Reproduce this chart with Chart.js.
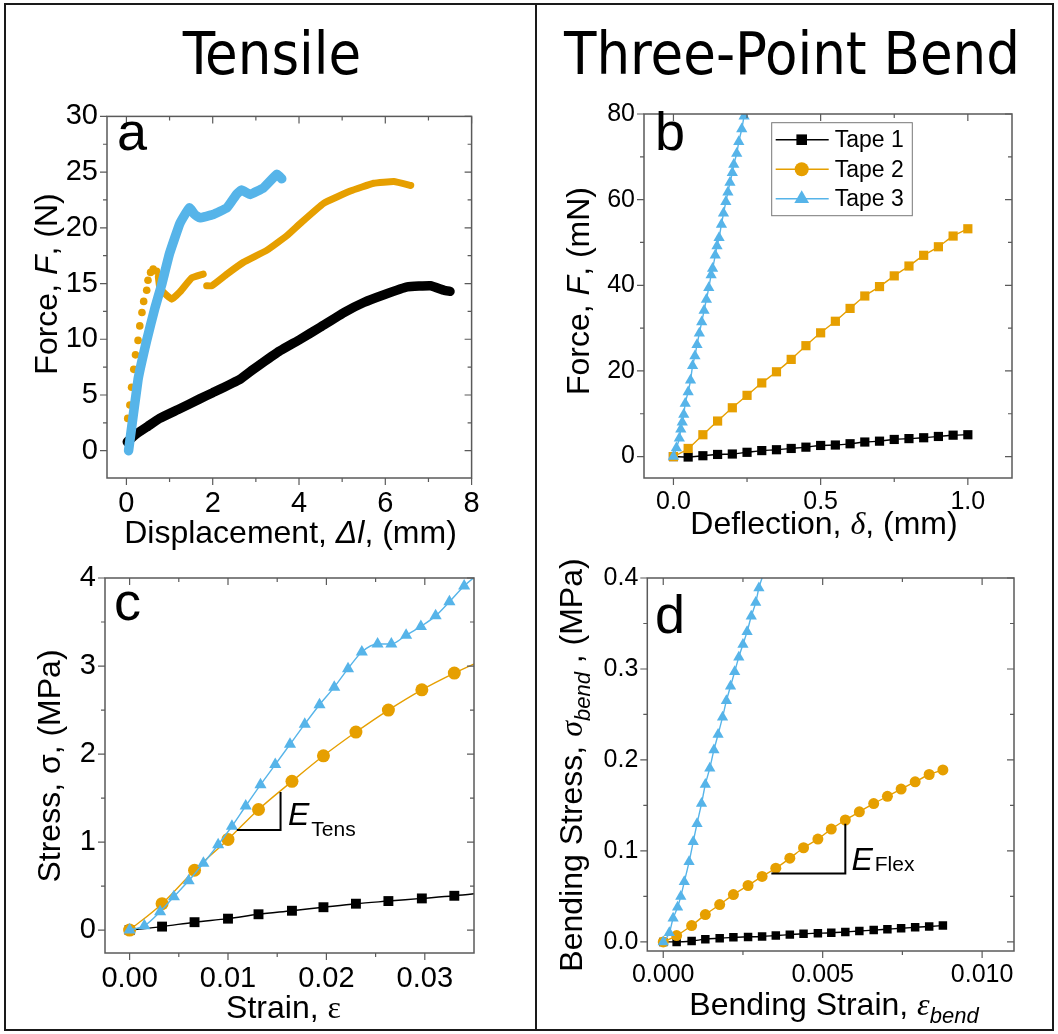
<!DOCTYPE html>
<html>
<head>
<meta charset="utf-8">
<script src="https://cdn.jsdelivr.net/npm/chart.js@4.4.1/dist/chart.umd.min.js"></script>
<style>
    body { margin: 0; background: #fff; width: 1058px; height: 1034px; position: relative; overflow: hidden; }
    .rule { position: absolute; background: #1a1a1a; }
    .head { position: absolute; top: 19px; font-family: "DejaVu Sans Condensed", "DejaVu Sans", sans-serif; font-stretch: condensed; font-size: 59px; color: #000; text-align: center; white-space: nowrap; }
    canvas { position: absolute; }
</style>
</head>
<body>
<div class="rule" style="left:4px;top:3px;width:1050px;height:2px"></div>
<div class="rule" style="left:4px;top:1029px;width:1050px;height:2px"></div>
<div class="rule" style="left:4px;top:3px;width:2px;height:1028px"></div>
<div class="rule" style="left:1052px;top:3px;width:2px;height:1028px"></div>
<div class="rule" style="left:535px;top:3px;width:2px;height:1028px"></div>
<div class="head" style="left:122px;width:300px">Tensile</div>
<div class="head" style="left:542px;width:500px">Three-Point Bend</div>
<canvas id="pa" width="530" height="460" style="left:0;top:90px"></canvas>
<canvas id="pb" width="515" height="460" style="left:537px;top:90px"></canvas>
<canvas id="pc" width="530" height="498" style="left:0;top:530px"></canvas>
<canvas id="pd" width="515" height="498" style="left:537px;top:530px"></canvas>
<script>
/* Tensile / three-point bend figure — four panels */

const BLACK = '#000000', ORANGE = '#E69F00', BLUE = '#56B4E9';
const SANS = '"Liberation Sans", Arial, sans-serif';
const SERIF = '"Liberation Serif", "DejaVu Serif", serif';

// (a) force vs displacement, tensile
const aBlackX = [0.02, 0.23, 0.5, 0.77, 1.2, 1.7, 2.0, 2.63, 2.94, 3.49, 4.03, 4.5, 5.04, 5.5, 5.97, 6.51, 7.05, 7.36, 7.5];
const aBlackY = [0.8, 1.5, 2.2, 2.9, 3.7, 4.65, 5.2, 6.4, 7.3, 8.8, 10.0, 11.1, 12.4, 13.3, 14.0, 14.7, 14.8, 14.4, 14.3];
const aBlueX = [0.05, 0.27, 0.47, 0.66, 0.81, 1.0, 1.24, 1.46, 1.58, 1.7, 2.01, 2.33, 2.55, 2.67, 2.87, 3.18, 3.49, 3.6];
const aBlueY = [0, 6.4, 9.9, 12.8, 14.8, 17.7, 20.4, 21.8, 21.2, 20.9, 21.2, 21.8, 23.0, 23.4, 23.0, 23.6, 24.8, 24.4];
const aOrangeDotX = [0.03, 0.08, 0.12, 0.17, 0.21, 0.27, 0.31, 0.36, 0.40, 0.47, 0.50, 0.56, 0.62, 0.70];
const aOrangeDotY = [2.9, 4.1, 5.7, 7.3, 8.6, 9.9, 11.2, 12.4, 13.4, 14.4, 15.3, 16.0, 16.3, 16.1];
const aOrangeX = [0.74, 0.77, 0.85, 1.05, 1.24, 1.51, 1.78, 1.82, 1.86, 1.98, 2.33, 2.71, 3.26, 3.72, 4.03, 4.57, 5.19, 5.73, 6.2, 6.59];
const aOrangeY = [15.6, 14.7, 14.25, 13.6, 14.25, 15.5, 15.85, null, 14.8, 14.8, 15.85, 16.9, 18.0, 19.3, 20.4, 22.2, 23.3, 24.0, 24.15, 23.8];
const aTicksX = [0, 2, 4, 6, 8], aMinorX = [1, 3, 5, 7];
const aTicksY = [0, 5, 10, 15, 20, 25, 30], aMinorY = [2.5, 7.5, 12.5, 17.5, 22.5, 27.5];

// (b) force vs deflection, three-point bend
const bX = [0, 0.05, 0.1, 0.15, 0.2, 0.25, 0.3, 0.35, 0.4, 0.45, 0.5, 0.55, 0.6, 0.65, 0.7, 0.75, 0.8, 0.85, 0.9, 0.95, 1.0];
const bBlack = [0, -0.1, 0.2, 0.5, 0.6, 1.0, 1.4, 1.6, 1.9, 2.2, 2.6, 2.7, 3.0, 3.4, 3.6, 4.0, 4.2, 4.4, 4.7, 5.0, 5.1];
const bOrange = [0, 1.9, 5.1, 8.3, 11.4, 14.3, 17.2, 19.8, 22.7, 25.9, 28.9, 31.6, 34.6, 37.5, 39.7, 42.2, 44.5, 47.0, 49.0, 51.5, 53.2];
const bBlueX = [0, 0.01, 0.02, 0.025, 0.03, 0.035, 0.04, 0.05, 0.058, 0.065, 0.073, 0.08, 0.088, 0.096, 0.104, 0.112, 0.12, 0.128, 0.133, 0.142, 0.148, 0.155, 0.163, 0.17, 0.178, 0.185, 0.192, 0.2, 0.205, 0.215, 0.222, 0.232, 0.24, 0.25];
const bBlueY = [0, 2.0, 4.3, 6.4, 8.0, 9.8, 12.4, 15.1, 17.8, 21.2, 23.5, 26.1, 28.8, 31.4, 34.1, 36.7, 39.4, 42.4, 43.9, 47.0, 49.2, 51.1, 54.2, 56.8, 59.5, 61.7, 64.0, 66.3, 68.2, 70.8, 73.5, 76.5, 79.5, 82.5];
const bTicksX = [0, 0.5, 1.0], bMinorX = [0.25, 0.75];
const bTicksY = [0, 20, 40, 60, 80], bMinorY = [10, 30, 50, 70];
const bLegend = ['Tape 1', 'Tape 2', 'Tape 3'];

// (c) tensile stress vs strain
const cX = [0, 0.0033, 0.0066, 0.0100, 0.0131, 0.0165, 0.0197, 0.0230, 0.0263, 0.0297, 0.0330, 0.0365];
const cBlack = [0, 0.04, 0.09, 0.13, 0.18, 0.22, 0.26, 0.30, 0.33, 0.36, 0.39, 0.43];
const cOrange = [0, 0.30, 0.68, 1.03, 1.37, 1.69, 1.98, 2.25, 2.50, 2.73, 2.92, 3.10];
const cBlueX = [0, 0.0015, 0.0031, 0.0045, 0.006, 0.0075, 0.009, 0.0104, 0.0118, 0.0133, 0.0148, 0.0163, 0.0178, 0.0193, 0.0208, 0.0222, 0.0236, 0.0252, 0.0266, 0.0281, 0.0296, 0.0311, 0.0325, 0.034, 0.0356];
const cBlueY = [0, 0.05, 0.21, 0.38, 0.56, 0.76, 0.97, 1.18, 1.41, 1.65, 1.88, 2.11, 2.34, 2.56, 2.76, 2.97, 3.16, 3.25, 3.25, 3.35, 3.45, 3.57, 3.73, 3.91, 4.06];
const cTicksX = [0, 0.01, 0.02, 0.03], cMinorX = [0.005, 0.015, 0.025];
const cTicksY = [0, 1, 2, 3, 4], cMinorY = [0.5, 1.5, 2.5, 3.5];
const cSlope = { x: [0.0109, 0.01534, 0.01534], y: [1.136, 1.136, 1.57], textX: 0.0161, textY: 1.19 };

// (d) bending stress vs bending strain
const dX = [0, 0.00042, 0.00089, 0.00132, 0.00177, 0.0022, 0.00266, 0.0031, 0.00353, 0.00397, 0.0044, 0.00485, 0.00527, 0.00571, 0.00615, 0.0066, 0.00703, 0.00746, 0.0079, 0.00834, 0.00877];
const dBlack = [0, 0, 0.001, 0.003, 0.004, 0.005, 0.0055, 0.006, 0.007, 0.008, 0.009, 0.0095, 0.010, 0.011, 0.012, 0.013, 0.014, 0.015, 0.016, 0.017, 0.018];
const dOrange = [0, 0.007, 0.018, 0.030, 0.041, 0.052, 0.062, 0.072, 0.081, 0.092, 0.1035, 0.113, 0.124, 0.134, 0.143, 0.152, 0.160, 0.168, 0.176, 0.184, 0.189];
const dBlueX = [0, 0.00019, 0.00031, 0.00045, 0.00055, 0.00066, 0.00081, 0.00094, 0.00106, 0.0012, 0.00132, 0.00146, 0.00159, 0.00172, 0.00186, 0.00198, 0.00211, 0.00224, 0.00237, 0.0025, 0.00263, 0.00276, 0.0029, 0.003, 0.0032];
const dBlueY = [0, 0.010, 0.026, 0.038, 0.050, 0.066, 0.088, 0.110, 0.130, 0.152, 0.173, 0.191, 0.211, 0.228, 0.247, 0.265, 0.281, 0.297, 0.313, 0.327, 0.341, 0.358, 0.373, 0.389, 0.41];
const dTicksX = [0, 0.005, 0.010], dMinorX = [0.0025, 0.0075];
const dTicksY = [0, 0.1, 0.2, 0.3, 0.4], dMinorY = [0.05, 0.15, 0.25, 0.35];
const dSlope = { x: [0.00339, 0.00571, 0.00571], y: [0.0753, 0.0753, 0.130], textX: 0.0059, textY: 0.079 };

const zip = (xs, ys) => xs.map((x, i) => ({ x, y: ys[i] }));

// text made of styled pieces, centred on (cx, cy); rotated for y titles
function drawRich(ctx, parts, cx, cy, rot) {
    ctx.save();
    ctx.translate(cx, cy);
    if (rot) ctx.rotate(-Math.PI / 2);
    let w = 0;
    parts.forEach(p => { ctx.font = p.font; w += ctx.measureText(p.t).width; });
    let x = -w / 2;
    const base = parts[0].size * 0.36;
    ctx.fillStyle = '#000';
    ctx.textAlign = 'left';
    ctx.textBaseline = 'alphabetic';
    parts.forEach(p => {
        ctx.font = p.font;
        ctx.fillText(p.t, x, base + (p.dy || 0));
        x += ctx.measureText(p.t).width;
    });
    ctx.restore();
}
const seg = (t, size, style, family, dy) => ({ t, size, dy, font: `${style || ''} ${size}px ${family || SANS}` });

const decor = {
    id: 'decor',
    afterDraw(chart, args, o) {
        const ctx = chart.ctx, a = chart.chartArea, xs = chart.scales.x, ys = chart.scales.y;
        ctx.save();
        ctx.strokeStyle = '#5a5a5a';
        ctx.lineWidth = 1.5;
        ctx.strokeRect(a.left, a.top, a.right - a.left, a.bottom - a.top);
        ctx.lineWidth = 1.2;
        ctx.beginPath();
        const tickX = (vals, len) => vals.forEach(v => {
            const px = xs.getPixelForValue(v);
            ctx.moveTo(px, a.bottom); ctx.lineTo(px, a.bottom + len);
            ctx.moveTo(px, a.top); ctx.lineTo(px, a.top + len);
        });
        const tickY = (vals, len) => vals.forEach(v => {
            const py = ys.getPixelForValue(v);
            ctx.moveTo(a.left, py); ctx.lineTo(a.left - len, py);
            ctx.moveTo(a.right, py); ctx.lineTo(a.right - len, py);
        });
        tickX(o.xTicks, 7); tickX(o.xMinor, 4);
        tickY(o.yTicks, 7); tickY(o.yMinor, 4);
        ctx.stroke();

        if (o.slope) {
            ctx.strokeStyle = '#000';
            ctx.lineWidth = 2;
            ctx.beginPath();
            o.slope.x.forEach((v, i) => {
                const px = xs.getPixelForValue(v), py = ys.getPixelForValue(o.slope.y[i]);
                i ? ctx.lineTo(px, py) : ctx.moveTo(px, py);
            });
            ctx.stroke();
            const tx = xs.getPixelForValue(o.slope.textX), ty = ys.getPixelForValue(o.slope.textY);
            ctx.fillStyle = '#000';
            ctx.textBaseline = 'alphabetic';
            ctx.font = `italic 32px ${SANS}`;
            ctx.fillText('E', tx, ty);
            const ew = ctx.measureText('E').width;
            ctx.font = `21px ${SANS}`;
            ctx.fillText(o.slope.sub, tx + ew + 2, ty + o.slope.subDy);
        }

        ctx.fillStyle = '#000';
        ctx.font = `54px ${SANS}`;
        ctx.textBaseline = 'alphabetic';
        ctx.fillText(o.letter.t, o.letter.x, o.letter.y);

        drawRich(ctx, o.xTitle, o.xTitlePos[0], o.xTitlePos[1], false);
        drawRich(ctx, o.yTitle, o.yTitlePos[0], o.yTitlePos[1], true);

        if (o.legend) {
            const L = o.legend;
            ctx.strokeStyle = '#777';
            ctx.lineWidth = 1;
            ctx.strokeRect(L.x, L.y, L.w, L.h);
            L.items.forEach((it, i) => {
                const cy = L.y + 17 + i * 29.5;
                ctx.strokeStyle = it.color;
                ctx.fillStyle = it.color;
                ctx.lineWidth = 1.5;
                ctx.beginPath();
                ctx.moveTo(L.x + 4, cy); ctx.lineTo(L.x + 57, cy);
                ctx.stroke();
                Chart.helpers.drawPoint(ctx, { pointStyle: it.style, radius: it.r, borderWidth: 0, rotation: 0 }, L.x + 30, cy);
                ctx.fillStyle = '#000';
                ctx.font = `23px ${SANS}`;
                ctx.textBaseline = 'middle';
                ctx.fillText(it.label, L.x + 63, cy + 1);
            });
        }
        ctx.restore();
    }
};

function makePanel(id, p) {
    const cv = document.getElementById(id);
    const W = cv.width, H = cv.height;
    const tickFont = { family: SANS, size: p.tickSize };
    return new Chart(cv, {
        type: 'scatter',
        data: { datasets: p.datasets },
        options: {
            responsive: false,
            animation: false,
            events: [],
            layout: { padding: { top: p.box.t, right: W - p.box.r, left: 0, bottom: 0 } },
            plugins: { legend: { display: false }, tooltip: { enabled: false }, decor: p.decor },
            scales: {
                x: {
                    type: 'linear', min: p.xMin, max: p.xMax,
                    grid: { display: false, drawTicks: false }, border: { display: false },
                    afterFit: s => { s.height = H - p.box.b; },
                    afterBuildTicks: s => { s.ticks = p.decor.xTicks.map(v => ({ value: v })); },
                    ticks: { font: tickFont, color: '#000', padding: 9, maxRotation: 0, autoSkip: false, callback: p.xFmt },
                },
                y: {
                    type: 'linear', min: p.yMin, max: p.yMax,
                    grid: { display: false, drawTicks: false }, border: { display: false },
                    afterFit: s => { s.width = p.box.l; },
                    afterBuildTicks: s => { s.ticks = p.decor.yTicks.map(v => ({ value: v })); },
                    ticks: { font: tickFont, color: '#000', padding: 9, autoSkip: false, callback: p.yFmt },
                },
            },
        },
        plugins: [decor],
    });
}

const thick = (data, color, w, order) => ({
    data, showLine: true, borderColor: color, backgroundColor: color, borderWidth: w,
    pointRadius: 0, tension: 0.1, spanGaps: false, borderJoinStyle: 'round', borderCapStyle: 'round', order,
});
const marked = (data, color, style, r, order) => ({
    data, showLine: true, borderColor: color, backgroundColor: color, borderWidth: 1.4,
    pointStyle: style, pointRadius: r, pointBorderWidth: 0, cubicInterpolationMode: 'monotone', order,
});

const TT = 32;

makePanel('pa', {
    box: { l: 107, t: 15, r: 471.6, b: 388 },
    xMin: -0.45, xMax: 8, yMin: -2.45, yMax: 30, tickSize: 29,
    xFmt: v => String(v), yFmt: v => String(v),
    datasets: [
        thick(zip(aBlueX, aBlueY), BLUE, 9.5, 0),
        thick(zip(aOrangeX, aOrangeY), ORANGE, 7, 1),
        { data: zip(aOrangeDotX, aOrangeDotY), showLine: false, pointRadius: 3.8, pointBorderWidth: 0, backgroundColor: ORANGE, order: 2 },
        thick(zip(aBlackX, aBlackY), BLACK, 9.5, 3),
    ],
    decor: {
        xTicks: aTicksX, xMinor: aMinorX, yTicks: aTicksY, yMinor: aMinorY,
        letter: { t: 'a', x: 117, y: 60 },
        xTitle: [seg('Displacement, ', TT), seg('Δl', TT, 'italic'), seg(', (mm)', TT)], xTitlePos: [290.5, 441],
        yTitle: [seg('Force, ', TT), seg('F', TT, 'italic'), seg(', (N)', TT)], yTitlePos: [45, 194],
    },
});

makePanel('pb', {
    box: { l: 107, t: 14, r: 475, b: 388 },
    xMin: -0.1, xMax: 1.15, yMin: -5, yMax: 80, tickSize: 25,
    xFmt: v => v.toFixed(1), yFmt: v => String(v),
    datasets: [
        marked(zip(bBlueX, bBlueY), BLUE, 'triangle', 6.5, 0),
        marked(zip(bX, bOrange), ORANGE, 'rect', 6.5, 1),
        marked(zip(bX, bBlack), BLACK, 'rect', 6.5, 2),
    ],
    decor: {
        xTicks: bTicksX, xMinor: bMinorX, yTicks: bTicksY, yMinor: bMinorY,
        letter: { t: 'b', x: 118, y: 60 },
        xTitle: [seg('Deflection, ', TT), seg('δ', TT, 'italic', SERIF), seg(', (mm)', TT)], xTitlePos: [287, 432],
        yTitle: [seg('Force, ', TT), seg('F', TT, 'italic'), seg(', (mN)', TT)], yTitlePos: [40, 201],
        legend: {
            x: 234.7, y: 32.7, w: 140.6, h: 93,
            items: [
                { label: bLegend[0], color: BLACK, style: 'rect', r: 7.5 },
                { label: bLegend[1], color: ORANGE, style: 'circle', r: 7 },
                { label: bLegend[2], color: BLUE, style: 'triangle', r: 8.5 },
            ],
        },
    },
});

makePanel('pc', {
    box: { l: 105, t: 48, r: 474, b: 423 },
    xMin: -0.0025, xMax: 0.035, yMin: -0.26, yMax: 4, tickSize: 29,
    xFmt: v => v.toFixed(2), yFmt: v => String(v),
    datasets: [
        marked(zip(cBlueX, cBlueY), BLUE, 'triangle', 7, 0),
        marked(zip(cX, cOrange), ORANGE, 'circle', 6.5, 1),
        marked(zip(cX, cBlack), BLACK, 'rect', 7, 2),
    ],
    decor: {
        xTicks: cTicksX, xMinor: cMinorX, yTicks: cTicksY, yMinor: cMinorY,
        letter: { t: 'c', x: 114, y: 90 },
        slope: Object.assign({ sub: 'Tens', subDy: 11 }, cSlope),
        xTitle: [seg('Strain, ', TT), seg('ε', TT, '', SERIF)], xTitlePos: [283.5, 476],
        yTitle: [seg('Stress, ', TT), seg('σ', TT), seg(', (MPa)', TT)], yTitlePos: [48, 236],
    },
});

makePanel('pd', {
    box: { l: 110.3, t: 48, r: 477, b: 421 },
    xMin: -0.0005, xMax: 0.011, yMin: -0.01, yMax: 0.4, tickSize: 25,
    xFmt: v => v.toFixed(3), yFmt: v => v.toFixed(1),
    datasets: [
        marked(zip(dBlueX, dBlueY), BLUE, 'triangle', 6.5, 0),
        marked(zip(dX, dOrange), ORANGE, 'circle', 5.5, 1),
        marked(zip(dX, dBlack), BLACK, 'rect', 6, 2),
    ],
    decor: {
        xTicks: dTicksX, xMinor: dMinorX, yTicks: dTicksY, yMinor: dMinorY,
        letter: { t: 'd', x: 118, y: 103 },
        slope: Object.assign({ sub: 'Flex', subDy: 1 }, dSlope),
        xTitle: [seg('Bending Strain, ', TT), seg('ε', TT, 'italic', SERIF), seg('bend', 22, 'italic', SANS, 8)], xTitlePos: [297, 473],
        yTitle: [seg('Bending Stress, ', TT), seg('σ', TT, 'italic', SERIF), seg('bend', 22, 'italic', SANS, 8), seg(' , (MPa)', TT)], yTitlePos: [33, 235],
    },
});
</script>
</body>
</html>
